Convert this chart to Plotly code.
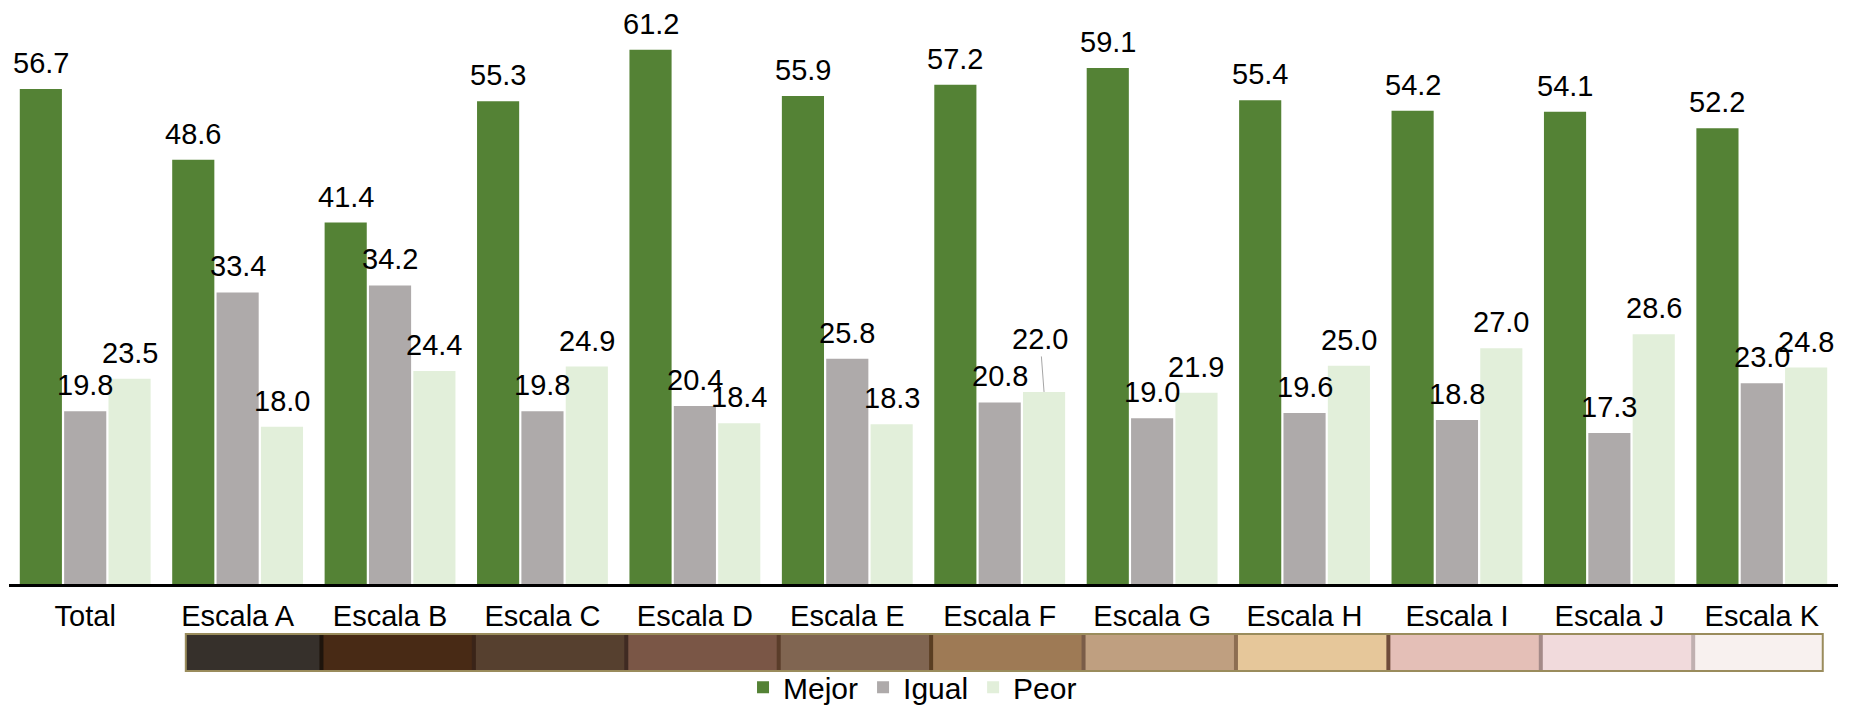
import plotly.graph_objects as go

categories = ["Total", "Escala A", "Escala B", "Escala C", "Escala D", "Escala E",
              "Escala F", "Escala G", "Escala H", "Escala I", "Escala J", "Escala K"]
mejor = [56.7, 48.6, 41.4, 55.3, 61.2, 55.9, 57.2, 59.1, 55.4, 54.2, 54.1, 52.2]
igual = [19.8, 33.4, 34.2, 19.8, 20.4, 25.8, 20.8, 19.0, 19.6, 18.8, 17.3, 23.0]
peor = [23.5, 18.0, 24.4, 24.9, 18.4, 18.3, 22.0, 21.9, 25.0, 27.0, 28.6, 24.8]
series_names = ["Mejor", "Igual", "Peor"]
series_values = [mejor, igual, peor]
series_colors = ["#548235", "#AEAAAA", "#E2EFDA"]

# skin-tone strip under categories Escala A..K
tone_colors = ["#36302b", "#482a15", "#56402f", "#7a5646", "#806551", "#9e7a55",
               "#bf9f80", "#e6c79a", "#e4bfb7", "#f1dadc", "#f8f1ef"]
tone_separators = ["#1e140c", "#3a2418", "#3f2a22", "#5a3d2a", "#5a3e22",
                   "#7a5c48", "#8d6e52", "#6e4b3a", "#a48a88", "#c0b0b0"]

FONT = "Arial, Liberation Sans, sans-serif"
BARGAP = 0.127
# page has an 8px body margin, so the figure is 8px smaller each way
W, H = 1846, 697
M_L, M_R, M_T, M_B = 1, 16, 2, 121
plot_h = H - M_T - M_B
px_per_unit = 8.73
ymax = plot_h / px_per_unit

fig = go.Figure()
for name, vals, col in zip(series_names, series_values, series_colors):
    fig.add_trace(go.Bar(
        x=categories, y=vals, name=name,
        marker=dict(color=col, line=dict(width=0)),
        hoverinfo="x+y+name",
    ))

annotations = []
slot = (1 - BARGAP) / 3
for j, vals in enumerate(series_values):
    for i, v in enumerate(vals):
        xpos = i + (j - 1) * slot
        if series_names[j] == "Peor" and categories[i] == "Escala F":
            annotations.append(dict(
                x=xpos, y=v, xref="x", yref="y", text=f"{v:.1f}",
                showarrow=True, arrowhead=0, arrowwidth=1, arrowcolor="#a6a6a6",
                ax=-4, ay=-53, standoff=0,
                font=dict(family=FONT, size=29, color="black"),
            ))
        else:
            annotations.append(dict(
                x=xpos, y=v, xref="x", yref="y", text=f"{v:.1f}",
                showarrow=False, yanchor="bottom", xanchor="center", yshift=8,
                font=dict(family=FONT, size=29, color="black"),
            ))

# strip geometry (data-index units on the category axis)
strip_y0 = -0.0871
strip_y1 = -0.1516
strip_start, strip_end = 0.66, 11.40
bounds = [strip_start] + [k + 0.55 for k in range(1, 11)] + [strip_end]
shapes = []
for k, col in enumerate(tone_colors):
    shapes.append(dict(type="rect", xref="x", yref="paper",
                       x0=bounds[k], x1=bounds[k + 1], y0=strip_y1, y1=strip_y0,
                       fillcolor=col, line=dict(width=0), layer="above"))
for k, col in enumerate(tone_separators):
    shapes.append(dict(type="line", xref="x", yref="paper",
                       x0=bounds[k + 1], x1=bounds[k + 1], y0=strip_y1, y1=strip_y0,
                       line=dict(color=col, width=4), layer="above"))
shapes.append(dict(type="rect", xref="x", yref="paper",
                   x0=strip_start, x1=strip_end, y0=strip_y1, y1=strip_y0,
                   fillcolor="rgba(0,0,0,0)", line=dict(color="#9a8c5c", width=2),
                   layer="above"))

fig.update_layout(
    width=W, height=H,
    margin=dict(l=M_L, r=M_R, t=M_T, b=M_B, pad=0, autoexpand=False),
    barmode="group", bargap=BARGAP, bargroupgap=0.05,
    plot_bgcolor="white", paper_bgcolor="white",
    font=dict(family=FONT, color="black"),
    xaxis=dict(type="category", showline=True, linecolor="black", linewidth=3,
               ticks="", showgrid=False, zeroline=False, automargin=False,
               ticklabelstandoff=4,
               tickfont=dict(family=FONT, size=29, color="black")),
    yaxis=dict(visible=False, range=[0, ymax], showgrid=False, zeroline=False,
               automargin=False),
    legend=dict(orientation="h", x=0.494, xanchor="center", y=-0.180, yanchor="middle",
                font=dict(family=FONT, size=30, color="black"), itemwidth=30,
                bgcolor="rgba(0,0,0,0)", itemclick=False),
    showlegend=True,
    annotations=annotations,
    shapes=shapes,
)

fig.write_html("out.html")
